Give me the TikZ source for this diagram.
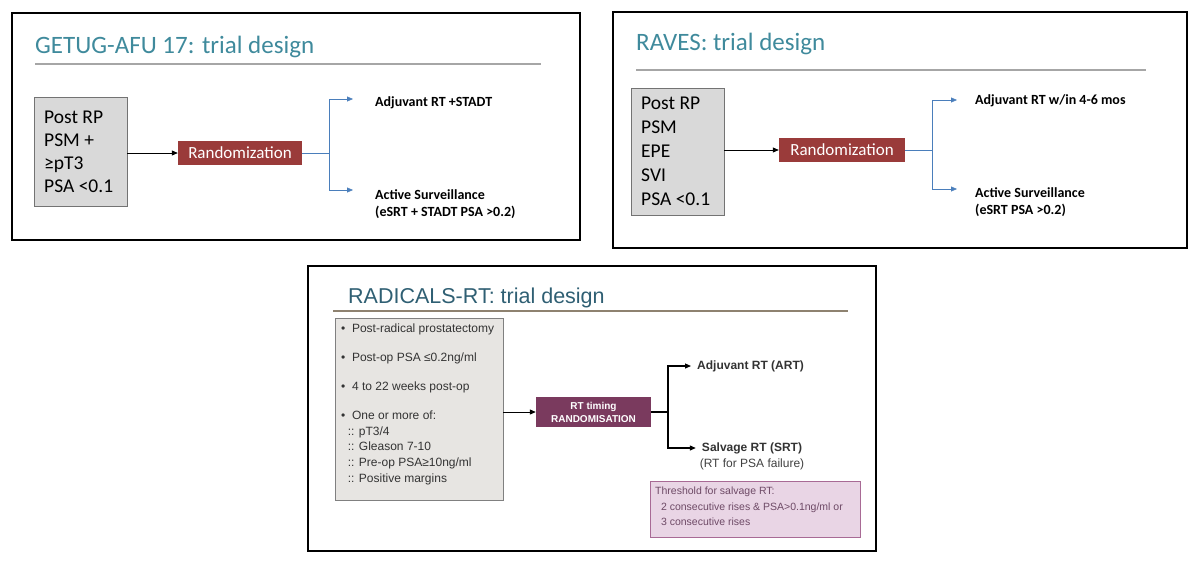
\documentclass[tikz,border=0pt]{standalone}
\usepackage{fontspec}
\setmainfont{Carlito}
\newfontfamily\arialfont{Liberation Sans}
\usetikzlibrary{arrows.meta}

\definecolor{titleteal}{HTML}{3F8A9C}
\definecolor{radteal}{HTML}{2F5F73}
\definecolor{rulegray}{HTML}{A6A6A6}
\definecolor{rulebrown}{HTML}{8E8270}
\definecolor{boxgray}{HTML}{D9D9D9}
\definecolor{boxlight}{HTML}{E7E5E2}
\definecolor{randred}{HTML}{9A3B3A}
\definecolor{randplum}{HTML}{7A3A5E}
\definecolor{armblue}{HTML}{4A7EBB}
\definecolor{threshfill}{HTML}{E9D5E5}
\definecolor{threshdraw}{HTML}{A86A95}
\definecolor{threshtext}{HTML}{6E4A66}

\begin{document}
\begin{tikzpicture}[x=1pt,y=-1pt,
    panel/.style={draw=black,line width=1.8pt},
    slidetitle/.style={anchor=base west,inner sep=0pt,text=titleteal,font=\fontsize{25}{29}\selectfont},
    critbox/.style={draw=black!55,fill=boxgray,anchor=north west,inner ysep=0pt,inner xsep=10pt,
      align=flush left,font=\fontsize{19.5}{23}\selectfont},
    randbox/.style={fill=randred,text=white,inner sep=0pt,minimum height=24pt,
      font=\fontsize{17}{20}\selectfont},
    armlabel/.style={anchor=west,inner sep=0pt,align=left,font=\bfseries\fontsize{14}{17}\selectfont},
    bluearrow/.style={draw=armblue,-{Triangle[length=6pt,width=5pt]}},
    blackarrow/.style={draw=black,line width=0.8pt,-{Triangle[length=6pt,width=5pt]}}]

    \useasboundingbox (0,0) rectangle (1200,560);

    % GETUG-AFU 17
    \draw[panel] (12,13) rectangle (580,240);
    \node[slidetitle] (title1) at (35,53) {GETUG-AFU 17: trial design};
    \draw[rulegray,line width=2.5pt] (35,64) -- (541,64);
    \node[critbox,minimum width=93pt,minimum height=109pt,text width=73pt] (post1) at (34,97)
      {Post RP\\PSM +\\≥pT3\\PSA <0.1};
    \node[randbox,minimum width=124pt] (rand1) at (240,153) {Randomization};
    \node[armlabel] (adj1) at (375,103) {Adjuvant RT +STADT};
    \node[armlabel] (surv1) at (375,195) {Active Surveillance};
    \node[armlabel] (note1) at (375,212) {(eSRT + STADT PSA >0.2)};
    \coordinate (split1) at (329,153);
    \draw[blackarrow] (post1.east |- rand1) -- (rand1.west);
    \draw[armblue] (rand1.east) -- (split1);
    \draw[bluearrow] (split1) |- ([xshift=-22pt,yshift=4pt]adj1.west);
    \draw[bluearrow] (split1) |- ([xshift=-22pt,yshift=5pt]surv1.west);

    % RAVES
    \draw[panel] (613,12) rectangle (1187,248);
    \node[slidetitle] (title2) at (636,50) {RAVES: trial design};
    \draw[rulegray,line width=2.5pt] (636,70) -- (1146,70);
    \node[critbox,minimum width=93pt,minimum height=127pt,text width=73pt,
      font=\fontsize{19.5}{24}\selectfont] (post2) at (631,88)
      {Post RP\\PSM\\EPE\\SVI\\PSA <0.1};
    \node[randbox,minimum width=126pt] (rand2) at (842,150) {Randomization};
    \node[armlabel] (adj2) at (975,101) {Adjuvant RT w/in 4-6 mos};
    \node[armlabel] (surv2) at (975,193) {Active Surveillance};
    \node[armlabel] (note2) at (975,210) {(eSRT PSA >0.2)};
    \coordinate (split2) at (932,150);
    \draw[blackarrow] (post2.east |- rand2) -- (rand2.west);
    \draw[armblue] (rand2.east) -- (split2);
    \draw[bluearrow] (split2) |- ([xshift=-18pt,yshift=1pt]adj2.west);
    \draw[bluearrow] (split2) |- ([xshift=-18pt,yshift=4pt]surv2.west);

    % RADICALS-RT
    \draw[panel] (308,266) rectangle (876,551);
    \node[slidetitle,text=radteal,font=\arialfont\fontsize{21.5}{25}\selectfont] (title3) at (348,303)
      {RADICALS-RT: trial design};
    \draw[rulebrown,line width=2.5pt] (333,311) -- (848,311);
    \node[draw=black!50,fill=boxlight,anchor=north west,minimum width=168pt,minimum height=182pt]
      (crit3) at (335,318) {};
    \node[anchor=north west,inner sep=0pt,align=flush left,text=black!80,
      font=\arialfont\fontsize{12}{15.8}\selectfont] (crittext3) at (341,324)
      {• \ Post-radical prostatectomy\\[13pt]
       • \ Post-op PSA ≤0.2ng/ml\\[13pt]
       • \ 4 to 22 weeks post-op\\[13pt]
       • \ One or more of:\\
       \ \ :: pT3/4\\
       \ \ :: Gleason 7-10\\
       \ \ :: Pre-op PSA≥10ng/ml\\
       \ \ :: Positive margins};
    \node[fill=randplum,text=white,align=center,inner sep=0pt,minimum width=115pt,minimum height=30pt,
      font=\arialfont\bfseries\fontsize{10}{13}\selectfont] (rand3) at (593.5,412)
      {RT timing\\RANDOMISATION};
    \node[anchor=west,inner sep=0pt,text=black!80,font=\arialfont\bfseries\fontsize{12}{14}\selectfont]
      (adj3) at (697,366) {Adjuvant RT (ART)};
    \node[inner sep=0pt,text=black!80,font=\arialfont\bfseries\fontsize{12}{14}\selectfont]
      (salv3) at (752,448) {Salvage RT (SRT)};
    \node[inner sep=0pt,text=black!75,font=\arialfont\fontsize{12}{14}\selectfont]
      (salvnote3) at (752,464) {(RT for PSA failure)};
    \node[draw=threshdraw,fill=threshfill,anchor=north west,minimum width=210pt,minimum height=56pt]
      (thresh3) at (650,481) {};
    \node[anchor=north west,inner sep=0pt,align=flush left,text=threshtext,
      font=\arialfont\fontsize{10.5}{15.5}\selectfont] (threshtext3) at (655,487)
      {Threshold for salvage RT:\\
       \ \ 2 consecutive rises \& PSA>0.1ng/ml or\\
       \ \ 3 consecutive rises};
    \coordinate (split3) at (668,412);
    \draw[blackarrow,line width=1pt] (crit3.east |- rand3) -- (rand3.west);
    \draw[line width=1.2pt] (rand3.east) -- (split3);
    \draw[blackarrow,line width=1.2pt] (split3) |- ([xshift=-6pt]adj3.west);
    \draw[blackarrow,line width=1.2pt] (split3) |- ([xshift=-6pt]salv3.west);
\end{tikzpicture}
\end{document}
